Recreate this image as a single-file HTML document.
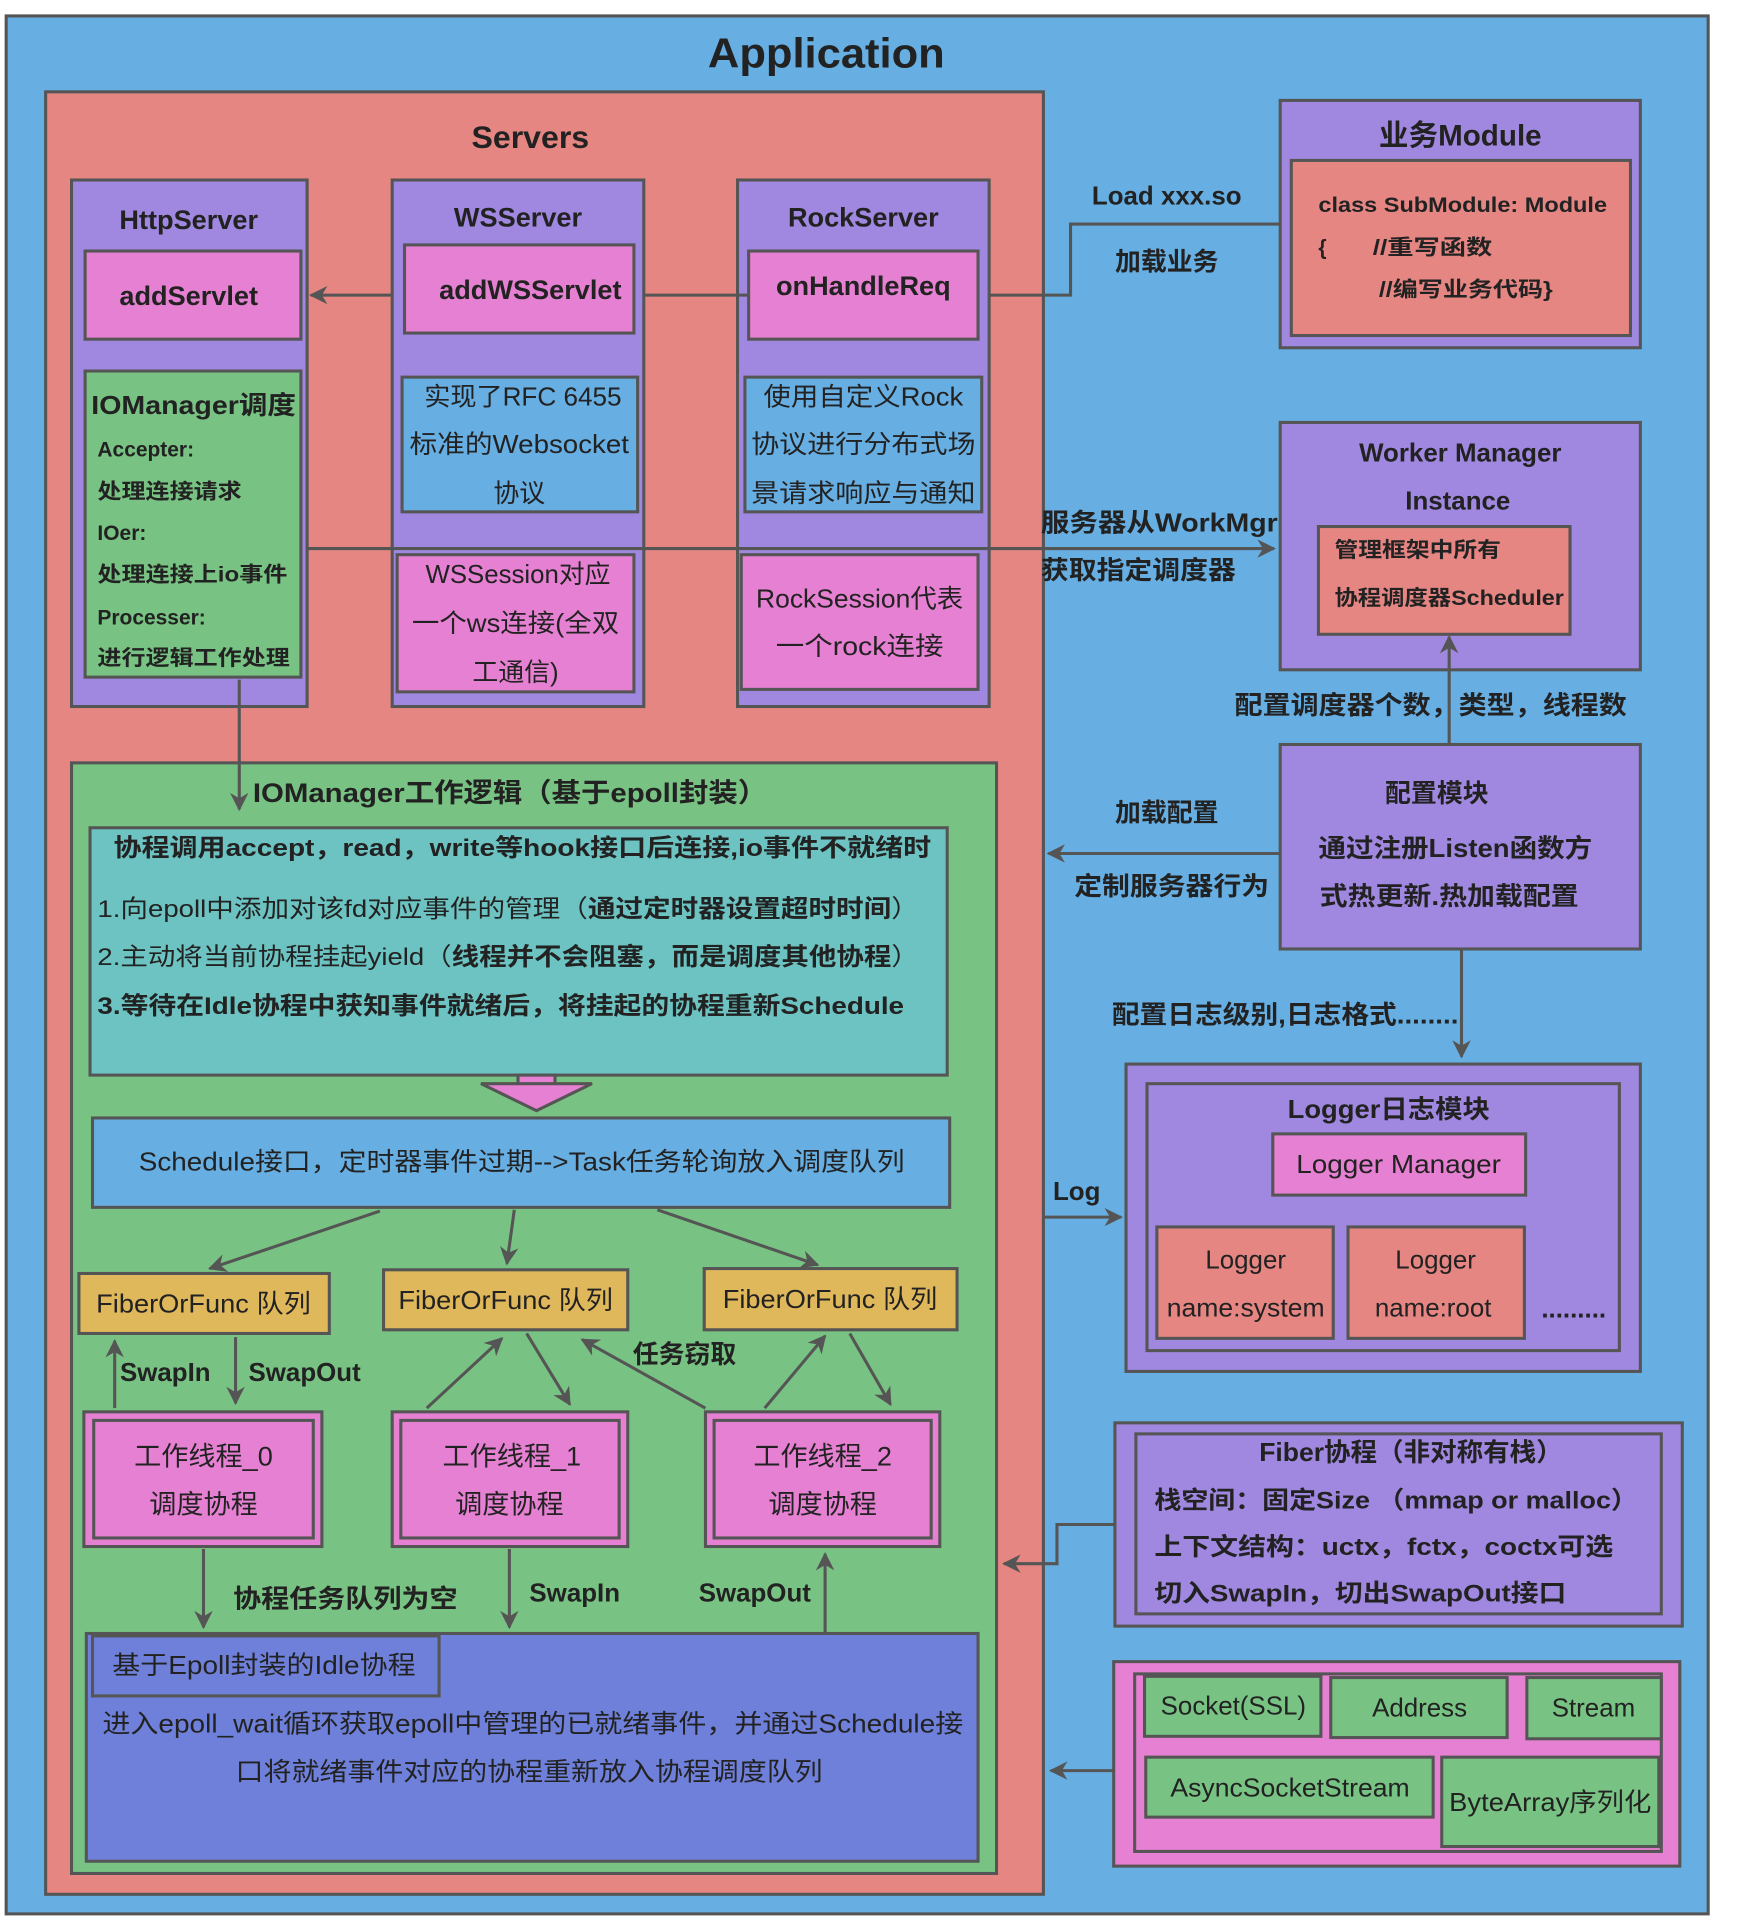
<!DOCTYPE html>
<html><head><meta charset="utf-8"><style>
html,body{margin:0;padding:0;background:#fff;}
svg{display:block;}
text{font-family:"Liberation Sans","Noto Sans CJK SC",sans-serif;fill:#222;}
.b{font-weight:bold;}
</style></head><body>
<svg width="1739" height="1920" viewBox="0 0 1410 1568" preserveAspectRatio="none" xmlns="http://www.w3.org/2000/svg">
<defs>
<marker id="ah" viewBox="0 0 10 10" refX="9" refY="5" markerWidth="6" markerHeight="6" orient="auto-start-reverse"><path d="M0,0 L10,5 L0,10 L3,5 z" fill="#555"/></marker>
</defs>
<g stroke="#555" stroke-width="2.5">
<rect x="5" y="13" width="1380" height="1550" fill="#67aee2"/>
<rect x="37" y="75" width="809" height="1472" fill="#e58683"/>
<rect x="58" y="147" width="191" height="430" fill="#a088e0"/>
<rect x="69" y="205" width="175" height="72" fill="#e680d2"/>
<rect x="69" y="303" width="175" height="250" fill="#78c383"/>
<rect x="318" y="147" width="204" height="430" fill="#a088e0"/>
<rect x="328" y="200" width="186" height="72" fill="#e680d2"/>
<rect x="326" y="308" width="191" height="110" fill="#67aee2"/>
<rect x="322" y="453" width="192" height="112" fill="#e680d2"/>
<rect x="598" y="147" width="204" height="430" fill="#a088e0"/>
<rect x="607" y="205" width="186" height="72" fill="#e680d2"/>
<rect x="604" y="308" width="192" height="110" fill="#67aee2"/>
<rect x="601" y="453" width="192" height="110" fill="#e680d2"/>
<rect x="1038" y="82" width="292" height="202" fill="#a088e0"/>
<rect x="1047" y="131" width="275" height="143" fill="#e58683"/>
<rect x="1038" y="345" width="292" height="202" fill="#a088e0"/>
<rect x="1069" y="430" width="204" height="88" fill="#e58683"/>
<rect x="1038" y="608" width="292" height="167" fill="#a088e0"/>
<rect x="913" y="869" width="417" height="251" fill="#a088e0"/>
<rect x="930" y="885" width="383" height="218" fill="#a088e0"/>
<rect x="1032" y="926" width="205" height="50" fill="#e680d2"/>
<rect x="938" y="1002" width="143" height="91" fill="#e58683"/>
<rect x="1093" y="1002" width="143" height="91" fill="#e58683"/>
<rect x="904" y="1162" width="460" height="166" fill="#a088e0"/>
<rect x="921" y="1171" width="426" height="147" fill="#a088e0"/>
<rect x="903" y="1357" width="459" height="167" fill="#e680d2"/>
<rect x="920" y="1367" width="427" height="145" fill="#e680d2"/>
<rect x="928" y="1369" width="143" height="49" fill="#78c383"/>
<rect x="1079" y="1370" width="143" height="49" fill="#78c383"/>
<rect x="1238" y="1370" width="109" height="50" fill="#78c383"/>
<rect x="929" y="1435" width="233" height="49" fill="#78c383"/>
<rect x="1169" y="1435" width="176" height="73" fill="#78c383"/>
<rect x="58" y="623" width="750" height="907" fill="#78c383"/>
<rect x="73" y="676" width="695" height="202" fill="#6cc3c2"/>
<rect x="420" y="878" width="30" height="8" fill="#e680d2"/>
<polygon points="390,885 480,885 435,907" fill="#e680d2"/>
<rect x="75" y="913" width="695" height="73" fill="#67aee2"/>
<rect x="64" y="1040" width="203" height="49" fill="#e0b85c"/>
<rect x="311" y="1037" width="198" height="49" fill="#e0b85c"/>
<rect x="571" y="1036" width="205" height="50" fill="#e0b85c"/>
<rect x="68" y="1153" width="193" height="110" fill="#e680d2"/>
<rect x="76" y="1160" width="178" height="96" fill="#e680d2"/>
<rect x="318" y="1153" width="191" height="110" fill="#e680d2"/>
<rect x="325" y="1160" width="177" height="96" fill="#e680d2"/>
<rect x="572" y="1153" width="190" height="110" fill="#e680d2"/>
<rect x="579" y="1160" width="176" height="96" fill="#e680d2"/>
<rect x="70" y="1334" width="723" height="186" fill="#6f80da"/>
<rect x="75" y="1336" width="281" height="49" fill="#6f80da"/>
</g>
<g stroke="#555" stroke-width="2.5" fill="none">
<line x1="318" y1="241" x2="252" y2="241" marker-end="url(#ah)"/>
<line x1="522" y1="241" x2="607" y2="241"/>
<polyline points="802,241 868,241 868,183 1038,183"/>
<line x1="249" y1="448" x2="1033" y2="448" marker-end="url(#ah)"/>
<line x1="1175" y1="607" x2="1175" y2="520" marker-end="url(#ah)"/>
<line x1="1038" y1="697" x2="850" y2="697" marker-end="url(#ah)"/>
<line x1="1185" y1="775" x2="1185" y2="863" marker-end="url(#ah)"/>
<line x1="846" y1="994" x2="909" y2="994" marker-end="url(#ah)"/>
<polyline points="904,1245 857,1245 857,1277 814,1277" marker-end="url(#ah)"/>
<line x1="903" y1="1446" x2="852" y2="1446" marker-end="url(#ah)"/>
<line x1="194" y1="555" x2="194" y2="661" marker-end="url(#ah)"/>
<line x1="308" y1="989" x2="170" y2="1036" marker-end="url(#ah)"/>
<line x1="417" y1="988" x2="411" y2="1032" marker-end="url(#ah)"/>
<line x1="533" y1="988" x2="663" y2="1033" marker-end="url(#ah)"/>
<line x1="93" y1="1150" x2="93" y2="1095" marker-end="url(#ah)"/>
<line x1="191" y1="1092" x2="191" y2="1146" marker-end="url(#ah)"/>
<line x1="346" y1="1150" x2="407" y2="1093" marker-end="url(#ah)"/>
<line x1="427" y1="1089" x2="462" y2="1147" marker-end="url(#ah)"/>
<line x1="620" y1="1150" x2="669" y2="1091" marker-end="url(#ah)"/>
<line x1="689" y1="1089" x2="722" y2="1147" marker-end="url(#ah)"/>
<line x1="572" y1="1150" x2="472" y2="1094" marker-end="url(#ah)"/>
<line x1="165" y1="1265" x2="165" y2="1329" marker-end="url(#ah)"/>
<line x1="413" y1="1265" x2="413" y2="1329" marker-end="url(#ah)"/>
<line x1="669" y1="1333" x2="669" y2="1269" marker-end="url(#ah)"/>
</g>
<g text-anchor="middle">
<text x="670" y="55" class="b" font-size="34" textLength="192" lengthAdjust="spacingAndGlyphs">Application</text>
<text x="430" y="121" class="b" font-size="26">Servers</text>
<text x="153" y="187" class="b" font-size="22">HttpServer</text>
<text x="153" y="249" class="b" font-size="22">addServlet</text>
<text x="420" y="185" class="b" font-size="22">WSServer</text>
<text x="430" y="244" class="b" font-size="22">addWSServlet</text>
<text x="700" y="185" class="b" font-size="22">RockServer</text>
<text x="700" y="241" class="b" font-size="22">onHandleReq</text>
<g font-size="21">
<text x="424" y="331" textLength="160" lengthAdjust="spacingAndGlyphs">实现了RFC 6455</text>
<text x="421" y="370" textLength="178" lengthAdjust="spacingAndGlyphs">标准的Websocket</text>
<text x="421" y="410">协议</text>
<text x="700" y="331" textLength="162" lengthAdjust="spacingAndGlyphs">使用自定义Rock</text>
<text x="700" y="370" textLength="182" lengthAdjust="spacingAndGlyphs">协议进行分布式场</text>
<text x="700" y="410" textLength="182" lengthAdjust="spacingAndGlyphs">景请求响应与通知</text>
<text x="420" y="476" textLength="150" lengthAdjust="spacingAndGlyphs">WSSession对应</text>
<text x="418" y="516" textLength="168" lengthAdjust="spacingAndGlyphs">一个ws连接(全双</text>
<text x="418" y="556">工通信)</text>
<text x="697" y="496" textLength="168" lengthAdjust="spacingAndGlyphs">RockSession代表</text>
<text x="697" y="535" textLength="136" lengthAdjust="spacingAndGlyphs">一个rock连接</text>
</g>
<text x="946" y="167" class="b" font-size="21">Load xxx.so</text>
<text x="946" y="221" class="b" font-size="21">加载业务</text>
<text x="940" y="434" class="b" font-size="21" textLength="192" lengthAdjust="spacingAndGlyphs">服务器从WorkMgr</text>
<text x="923" y="473" class="b" font-size="21" textLength="158" lengthAdjust="spacingAndGlyphs">获取指定调度器</text>
<text x="1184" y="119" class="b" font-size="24">业务Module</text>
<text x="1184" y="377" class="b" font-size="21">Worker Manager</text>
<text x="1182" y="416" class="b" font-size="21">Instance</text>
<text x="1160" y="583" class="b" font-size="21" textLength="318" lengthAdjust="spacingAndGlyphs">配置调度器个数，类型，线程数</text>
<text x="1165" y="655" class="b" font-size="21">配置模块</text>
<text x="1180" y="700" class="b" font-size="21" textLength="222" lengthAdjust="spacingAndGlyphs">通过注册Listen函数方</text>
<text x="1175" y="739" class="b" font-size="21" textLength="210" lengthAdjust="spacingAndGlyphs">式热更新.热加载配置</text>
<text x="946" y="671" class="b" font-size="21">加载配置</text>
<text x="950" y="731" class="b" font-size="21" textLength="158" lengthAdjust="spacingAndGlyphs">定制服务器行为</text>
<text x="1042" y="836" class="b" font-size="21" textLength="281" lengthAdjust="spacingAndGlyphs">配置日志级别,日志格式........</text>
<text x="873" y="980" class="b" font-size="21">Log</text>
<text x="1126" y="913" class="b" font-size="21" textLength="164" lengthAdjust="spacingAndGlyphs">Logger日志模块</text>
<text x="1134" y="958" font-size="21" textLength="166" lengthAdjust="spacingAndGlyphs">Logger Manager</text>
<text x="1010" y="1036" font-size="21">Logger</text>
<text x="1010" y="1075" font-size="21" textLength="128" lengthAdjust="spacingAndGlyphs">name:system</text>
<text x="1164" y="1036" font-size="21">Logger</text>
<text x="1162" y="1075" font-size="21">name:root</text>
<text x="1276" y="1076" class="b" font-size="21">.........</text>
<text x="1144" y="1193" class="b" font-size="21" textLength="246" lengthAdjust="spacingAndGlyphs">Fiber协程（非对称有栈）</text>
<text x="1000" y="1400" font-size="21">Socket(SSL)</text>
<text x="1151" y="1402" font-size="21">Address</text>
<text x="1292" y="1402" font-size="21">Stream</text>
<text x="1046" y="1467" font-size="21" textLength="194" lengthAdjust="spacingAndGlyphs">AsyncSocketStream</text>
<text x="1257" y="1479" font-size="21" textLength="164" lengthAdjust="spacingAndGlyphs">ByteArray序列化</text>
<text x="423" y="956" font-size="21" textLength="621" lengthAdjust="spacingAndGlyphs">Schedule接口，定时器事件过期-->Task任务轮询放入调度队列</text>
<text x="165" y="1072" font-size="21" textLength="174" lengthAdjust="spacingAndGlyphs">FiberOrFunc 队列</text>
<text x="410" y="1069" font-size="21" textLength="174" lengthAdjust="spacingAndGlyphs">FiberOrFunc 队列</text>
<text x="673" y="1068" font-size="21" textLength="174" lengthAdjust="spacingAndGlyphs">FiberOrFunc 队列</text>
<text x="165" y="1197" font-size="22">工作线程_0</text>
<text x="165" y="1236" font-size="22">调度协程</text>
<text x="415" y="1197" font-size="22">工作线程_1</text>
<text x="413" y="1236" font-size="22">调度协程</text>
<text x="667" y="1197" font-size="22">工作线程_2</text>
<text x="667" y="1236" font-size="22">调度协程</text>
<text x="134" y="1128" class="b" font-size="21">SwapIn</text>
<text x="247" y="1128" class="b" font-size="21">SwapOut</text>
<text x="555" y="1113" class="b" font-size="21">任务窃取</text>
<text x="280" y="1313" class="b" font-size="21" textLength="182" lengthAdjust="spacingAndGlyphs">协程任务队列为空</text>
<text x="466" y="1308" class="b" font-size="21">SwapIn</text>
<text x="612" y="1308" class="b" font-size="21">SwapOut</text>
<text x="214" y="1367" font-size="21" textLength="246" lengthAdjust="spacingAndGlyphs">基于Epoll封装的Idle协程</text>
<text x="432" y="1415" font-size="21" textLength="698" lengthAdjust="spacingAndGlyphs">进入epoll_wait循环获取epoll中管理的已就绪事件，并通过Schedule接</text>
<text x="429" y="1454" font-size="21" textLength="476" lengthAdjust="spacingAndGlyphs">口将就绪事件对应的协程重新放入协程调度队列</text>
</g>
<g text-anchor="start">
<text x="74" y="338" class="b" font-size="21" textLength="166" lengthAdjust="spacingAndGlyphs">IOManager调度</text>
<text x="79" y="373" class="b" font-size="17">Accepter:</text>
<text x="79" y="407" class="b" font-size="17" textLength="117" lengthAdjust="spacingAndGlyphs">处理连接请求</text>
<text x="79" y="441" class="b" font-size="17">IOer:</text>
<text x="79" y="475" class="b" font-size="17" textLength="154" lengthAdjust="spacingAndGlyphs">处理连接上io事件</text>
<text x="79" y="510" class="b" font-size="17">Processer:</text>
<text x="79" y="543" class="b" font-size="17" textLength="156" lengthAdjust="spacingAndGlyphs">进行逻辑工作处理</text>
<text x="1069" y="173" class="b" font-size="17" textLength="234" lengthAdjust="spacingAndGlyphs">class SubModule: Module</text>
<text x="1069" y="208" class="b" font-size="17">{</text>
<text x="1113" y="208" class="b" font-size="17" textLength="97" lengthAdjust="spacingAndGlyphs">//重写函数</text>
<text x="1118" y="242" class="b" font-size="17" textLength="141" lengthAdjust="spacingAndGlyphs">//编写业务代码}</text>
<text x="1082" y="455" class="b" font-size="17" textLength="135" lengthAdjust="spacingAndGlyphs">管理框架中所有</text>
<text x="1082" y="494" class="b" font-size="17" textLength="186" lengthAdjust="spacingAndGlyphs">协程调度器Scheduler</text>
<text x="936" y="1232" class="b" font-size="20" textLength="392" lengthAdjust="spacingAndGlyphs">栈空间：固定Size （mmap or malloc）</text>
<text x="936" y="1270" class="b" font-size="20" textLength="372" lengthAdjust="spacingAndGlyphs">上下文结构：uctx，fctx，coctx可选</text>
<text x="936" y="1308" class="b" font-size="20" textLength="334" lengthAdjust="spacingAndGlyphs">切入SwapIn，切出SwapOut接口</text>
<text x="205" y="655" class="b" font-size="22" textLength="417" lengthAdjust="spacingAndGlyphs">IOManager工作逻辑（基于epoll封装）</text>
<text x="92" y="699" class="b" font-size="20" textLength="663" lengthAdjust="spacingAndGlyphs">协程调用accept，read，write等hook接口后连接,io事件不就绪时</text>
<text x="79" y="749" font-size="20" textLength="666" lengthAdjust="spacingAndGlyphs">1.向epoll中添加对该fd对应事件的管理（<tspan class="b">通过定时器设置超时时间</tspan>）</text>
<text x="79" y="788" font-size="20" textLength="666" lengthAdjust="spacingAndGlyphs">2.主动将当前协程挂起yield（<tspan class="b">线程并不会阻塞，而是调度其他协程</tspan>）</text>
<text x="79" y="828" class="b" font-size="20" textLength="654" lengthAdjust="spacingAndGlyphs">3.等待在Idle协程中获知事件就绪后，将挂起的协程重新Schedule</text>
</g>
</svg>
</body></html>
